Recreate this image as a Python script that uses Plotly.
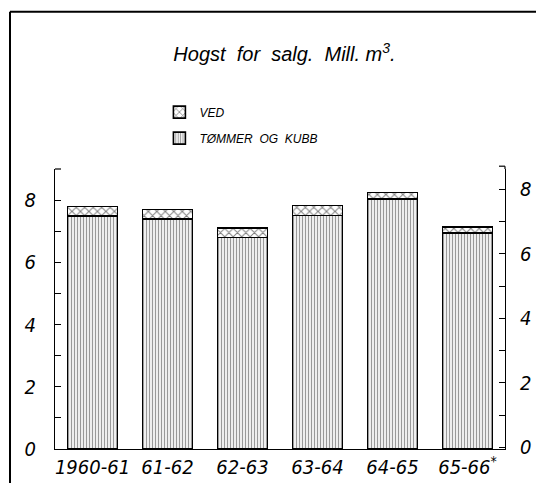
import plotly.graph_objects as go

seasons = ["1960-61", "61-62", "62-63", "63-64", "64-65", "65-66<sup>*</sup>"]
tommer = [7.48, 7.40, 6.80, 7.51, 8.04, 6.95]
ved = [0.31, 0.30, 0.30, 0.32, 0.20, 0.19]
left_ticks = [0, 2, 4, 6, 8]
right_ticks = [0, 2, 4, 6, 8]

FONT = "Liberation Sans Narrow, DejaVu Sans Condensed, Liberation Sans, sans-serif"
TICKFONT = dict(size=20, family=FONT, style="italic", color="black")

fig = go.Figure()
fig.add_trace(go.Bar(
    x=seasons, y=tommer, name="TØMMER  OG  KUBB", legendrank=2, legendgroup="t",
    marker=dict(color="white", line=dict(color="black", width=1.6),
                pattern=dict(shape="|", size=3, solidity=0.45, fgcolor="#333", bgcolor="white")),
))
fig.add_trace(go.Bar(
    x=seasons, y=ved, name="VED", legendrank=1, legendgroup="v",
    marker=dict(color="white", line=dict(color="black", width=1.6),
                pattern=dict(shape="x", size=6, solidity=0.3, fgcolor="black", bgcolor="white")),
))
# right-hand axis carrier
fig.add_trace(go.Scatter(x=seasons, y=[None] * len(seasons), yaxis="y2",
                         showlegend=False, hoverinfo="skip"))

# page body adds an 8px offset; figure is 536x475 so it fits the 544x483 window
fig.update_layout(
    width=536, height=475,
    margin=dict(l=47, r=39, t=161, b=34, autoexpand=False),
    paper_bgcolor="white", plot_bgcolor="white",
    barmode="stack", bargap=0.333,
    font=dict(family=FONT, color="black", style="italic"),
    title=dict(text="Hogst  for  salg.  Mill. m<sup>3</sup>.", x=0.51, xref="paper", y=1 - 46 / 475,
               yanchor="middle", xanchor="center",
               font=dict(size=20, family="Liberation Sans, sans-serif", style="italic", color="black")),
    showlegend=True,
    legend=dict(x=0.232, y=1.255, xanchor="left", yanchor="top", traceorder="grouped",
                font=dict(size=12, family="Liberation Sans, sans-serif", style="italic"),
                bgcolor="rgba(0,0,0,0)", tracegroupgap=7),
    xaxis=dict(showline=True, linecolor="black", linewidth=1.2, ticks="", showgrid=False,
               range=[-0.5, 5.5], tickfont=TICKFONT, ticklabelstandoff=0),
    yaxis=dict(range=[0, 9], tickvals=left_ticks, ticks="inside", ticklen=6,
               tickcolor="black", showline=True, linecolor="black", linewidth=1.2, showgrid=False,
               zeroline=False, tickfont=TICKFONT, ticklabelstandoff=14,
               minor=dict(dtick=1, tick0=0, ticks="inside", ticklen=6, tickcolor="black", showgrid=False)),
    yaxis2=dict(overlaying="y", side="right", range=[-0.053, 8.63], tickvals=right_ticks,
                ticks="inside", ticklen=6, tickcolor="black", showline=True,
                linecolor="black", linewidth=1.2, showgrid=False, zeroline=False,
                tickfont=TICKFONT, ticklabelstandoff=10,
                minor=dict(dtick=1, tick0=0, ticks="inside", ticklen=6, tickcolor="black", showgrid=False)),
)

# outer frame of the drawing and top brackets of the axes
fig.add_shape(type="line", xref="paper", yref="paper", x0=-0.1, x1=-0.1, y0=1.562, y1=-0.13,
              line=dict(color="black", width=2))
fig.add_shape(type="line", xref="paper", yref="paper", x0=-0.1, x1=1.09, y0=1.562, y1=1.562,
              line=dict(color="black", width=2))
fig.add_shape(type="line", xref="paper", yref="paper", x0=0, x1=6 / 450, y0=1, y1=1,
              line=dict(color="black", width=1.2))
fig.add_shape(type="line", xref="paper", yref="paper", x0=1, x1=1 - 6 / 450, y0=1.01, y1=1.01,
              line=dict(color="black", width=1.2))
fig.add_shape(type="line", xref="paper", yref="paper", x0=1, x1=1, y0=1, y1=1.01,
              line=dict(color="black", width=1.2))

fig.write_html("out.html")
